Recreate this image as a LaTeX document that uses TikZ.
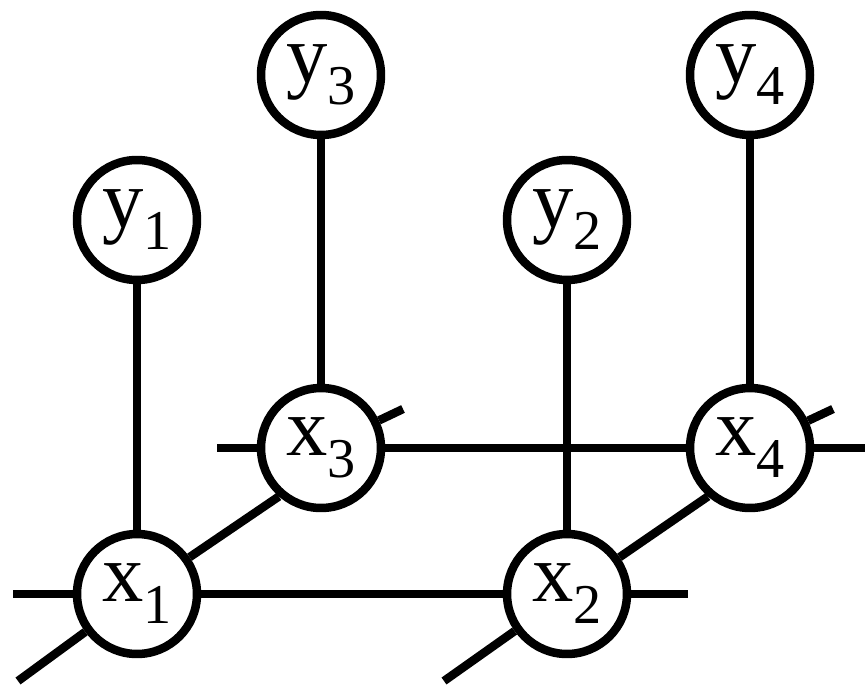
\documentclass[tikz,border=0pt]{standalone}
\usepackage{fontspec}
\setmainfont{Liberation Serif}
\newcommand{\varlab}[2]{{\fontsize{47}{47}\selectfont #1\raisebox{-12.5pt}{\fontsize{32}{32}\selectfont #2}}}
\tikzset{
  var/.style={circle, draw=black, fill=white, line width=0.17cm, minimum size=2.4cm, inner sep=0pt},
  edge/.style={draw=black, line width=0.17cm}
}
\begin{document}
\begin{tikzpicture}[x=0.02cm,y=-0.02cm]
\useasboundingbox (0,0) rectangle (865,686);
% nodes
\node[var] (x1) at (137,594) {\varlab{x}{1}};
\node[var] (x2) at (567,594) {\varlab{x}{2}};
\node[var] (x3) at (321,448) {\varlab{x}{3}};
\node[var] (x4) at (750,448) {\varlab{x}{4}};
\node[var] (y1) at (137,220) {\varlab{y}{1}};
\node[var] (y2) at (567,220) {\varlab{y}{2}};
\node[var] (y3) at (321,75) {\varlab{y}{3}};
\node[var] (y4) at (750,75) {\varlab{y}{4}};
% free ends
\coordinate (a1) at (13,594);
\coordinate (a2) at (688,594);
\coordinate (b1) at (217,448);
\coordinate (b2) at (865,448);
\coordinate (d1) at (18,681);
\coordinate (d2) at (444,681);
\coordinate (e3) at (403,409);
\coordinate (e4) at (833,409);
% connectors
\path[edge] (y1) -- (x1);
\path[edge] (y2) -- (x2);
\path[edge] (y3) -- (x3);
\path[edge] (y4) -- (x4);
\path[edge] (a1) -- (x1);
\path[edge] (x1) -- (x2);
\path[edge] (x2) -- (a2);
\path[edge] (b1) -- (x3);
\path[edge] (x3) -- (x4);
\path[edge] (x4) -- (b2);
\path[edge] (d1) -- (x1);
\path[edge] (d2) -- (x2);
\path[edge] (x1.35) -- (x3.229);
\path[edge] (x2.35) -- (x4.229);
\path[edge] (x3) -- (e3);
\path[edge] (x4) -- (e4);
\end{tikzpicture}
\end{document}
